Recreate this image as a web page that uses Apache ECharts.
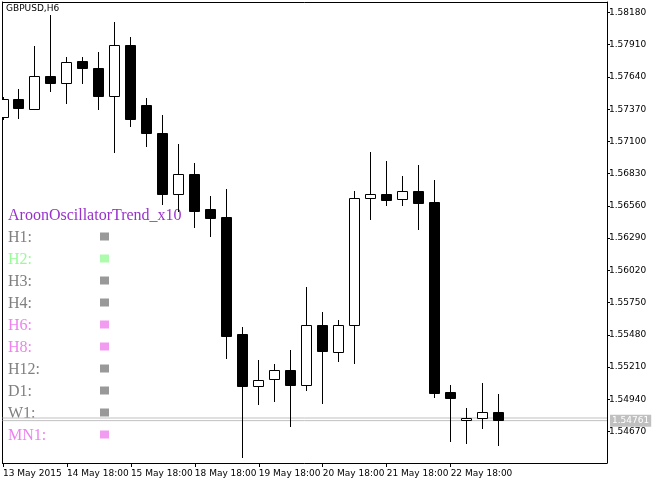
<!DOCTYPE html>
<html><head><meta charset="utf-8">
<script src="https://cdn.jsdelivr.net/npm/echarts@6/dist/echarts.min.js"></script>
<style>html,body{margin:0;padding:0;background:#fff}#c{width:659px;height:483px}</style>
</head><body><div id="c"></div>
<script>
const chartTitle = 'GBPUSD,H6';
// H6 bars, oldest first
const opens  = [1.57301,1.57451,1.57370,1.57641,1.57583,1.57767,1.57708,1.57478,1.57901,1.57398,1.57164,1.56653,1.56820,1.56527,1.56463,1.55483,1.55049,1.55108,1.55179,1.55057,1.55555,1.55334,1.55555,1.56619,1.56653,1.56611,1.56678,1.56588,1.54997,1.54760,1.54776,1.54827];
const closes = [1.57451,1.57378,1.57641,1.57583,1.57761,1.57713,1.57478,1.57901,1.57281,1.57164,1.56653,1.56820,1.56515,1.56457,1.55468,1.55049,1.55095,1.55179,1.55057,1.55555,1.55342,1.55555,1.56619,1.56653,1.56607,1.56678,1.56582,1.54991,1.54949,1.54779,1.54827,1.54761];
const lows   = [1.57284,1.57295,1.57365,1.57521,1.57420,1.57583,1.57365,1.57010,1.57225,1.57060,1.56569,1.56515,1.56376,1.56306,1.55284,1.54449,1.54899,1.54924,1.54712,1.55013,1.54907,1.55256,1.55237,1.56446,1.56566,1.56566,1.56364,1.54957,1.54589,1.54572,1.54698,1.54556];
const highs  = [1.57468,1.57535,1.57895,1.58155,1.57801,1.57801,1.57843,1.58094,1.57968,1.57457,1.57317,1.57074,1.56912,1.56638,1.56697,1.55538,1.55265,1.55231,1.55349,1.55879,1.55667,1.55599,1.56680,1.57008,1.56931,1.56806,1.56898,1.56773,1.55055,1.54863,1.55072,1.54977];
const tickBars = [0,4,8,12,16,20,24,28];
const tickLabels = ['13 May 2015','14 May 18:00','15 May 18:00','18 May 18:00','19 May 18:00','20 May 18:00','21 May 18:00','22 May 18:00'];
const priceTicks = [1.5467,1.5494,1.5521,1.5548,1.5575,1.5602,1.5629,1.5656,1.5683,1.5710,1.5737,1.5764,1.5791,1.5818];
const bidPrice = 1.54761;
const askPrice = 1.54783;
const indicatorName = 'AroonOscillatorTrend_x10';
const timeframes = ['H1','H2','H3','H4','H6','H8','H12','D1','W1','MN1'];
const trendStates = [0,1,0,0,-1,-1,0,0,0,-1];

const stateColor = { '-1': '#EE82EE', '0': '#808080', '1': '#98FB98' };
const stateKey = { '-1': 'dn', '0': 'fl', '1': 'up' };
const SANS = 'DejaVu Sans';
const SERIF = 'Liberation Serif';

const candleData = opens.map((o, i) => [i, o, closes[i], lows[i], highs[i]]);
const panelRows = [indicatorName].concat(timeframes.map(t => t + ':'));

const chart = echarts.init(document.getElementById('c'), null, { renderer: 'canvas' });

function renderCandle(params, api) {
  const i = api.value(0);
  const o = api.value(1), c = api.value(2), l = api.value(3), h = api.value(4);
  const pO = api.coord([i, o]), pC = api.coord([i, c]);
  const pL = api.coord([i, l]), pH = api.coord([i, h]);
  const cx = Math.round(pO[0] - 0.5) + 0.5;
  const half = Math.round(api.size([1, 0])[0] * 5 / 16);
  const top = Math.round(Math.min(pO[1], pC[1]) - 0.5) + 0.5;
  const bot = Math.round(Math.max(pO[1], pC[1]) - 0.5) + 0.5;
  const bull = c >= o;
  return {
    type: 'group',
    children: [
      { type: 'line', shape: { x1: cx, y1: Math.floor(pH[1]), x2: cx, y2: Math.floor(pL[1]) + 1 },
        style: { stroke: '#000', lineWidth: 1 } },
      { type: 'rect', shape: { x: cx - half, y: top, width: half * 2, height: Math.max(bot - top, 1) },
        style: { fill: bull ? '#fff' : '#000', stroke: '#000', lineWidth: 1 } }
    ]
  };
}

const xMin = -0.03125, xMax = 37.78125;
const yMin = 1.544061, yMax = 1.582681;

function priceLine(price, withLabel) {
  return {
    type: 'line', xAxisIndex: 0, yAxisIndex: 0, z: 1, clip: false, silent: true,
    symbol: 'none', lineStyle: { color: '#c0c0c0', width: 1 },
    data: [[xMin, price], [xMax, price]],
    endLabel: withLabel ? {
      show: true, distance: 3,
      formatter: p => Number(p.value[1]).toFixed(5),
      color: '#fff', backgroundColor: '#c0c0c0', padding: [1, 2, 1, 2],
      fontSize: 9, fontFamily: SANS, lineHeight: 10
    } : { show: false }
  };
}

const richRow = color => ({ color: color, fontFamily: SERIF, fontSize: 16, padding: [3, 0, 0, 0] });

const option = {
  animation: false,
  backgroundColor: '#fff',
  title: {
    text: chartTitle, left: 6, top: 4, padding: 0,
    textStyle: { fontSize: 9, fontWeight: 'normal', fontFamily: SANS, color: '#000' }
  },
  grid: [
    { left: 2, right: 52, top: 2, bottom: 20 },
    { left: 100, width: 9, top: 203.5, height: 242 }
  ],
  xAxis: [
    { type: 'value', gridIndex: 0, position: 'bottom', min: xMin, max: xMax,
      axisLine: { show: true, onZero: false, lineStyle: { color: '#000', width: 1 } },
      axisTick: { show: true, customValues: tickBars, length: 4, lineStyle: { color: '#000' } },
      axisLabel: { show: true, customValues: tickBars, align: 'left', margin: 6,
        fontSize: 9, fontFamily: SANS, color: '#000',
        formatter: v => tickLabels[tickBars.indexOf(Math.round(v))] },
      splitLine: { show: false } },
    { type: 'value', gridIndex: 0, position: 'top', min: xMin, max: xMax,
      axisLine: { show: true, onZero: false, lineStyle: { color: '#000', width: 1 } },
      axisTick: { show: false }, axisLabel: { show: false }, splitLine: { show: false } },
    { type: 'value', gridIndex: 1, min: 0, max: 1, show: false }
  ],
  yAxis: [
    { type: 'value', gridIndex: 0, position: 'right', min: yMin, max: yMax,
      axisLine: { show: true, onZero: false, lineStyle: { color: '#000', width: 1 } },
      axisTick: { show: true, customValues: priceTicks, length: 3, lineStyle: { color: '#000' } },
      axisLabel: { show: true, customValues: priceTicks, margin: 2,
        fontSize: 9, fontFamily: SANS, color: '#000',
        formatter: v => v.toFixed(5) },
      splitLine: { show: false } },
    { type: 'value', gridIndex: 0, position: 'left', min: yMin, max: yMax,
      axisLine: { show: true, onZero: false, lineStyle: { color: '#000', width: 1 } },
      axisTick: { show: false }, axisLabel: { show: false }, splitLine: { show: false } },
    { type: 'category', gridIndex: 1, inverse: true, data: panelRows,
      axisLine: { show: false }, axisTick: { show: false }, splitLine: { show: false },
      axisLabel: { show: true, interval: 0, align: 'left', margin: 92,
        fontFamily: SERIF, fontSize: 16,
        formatter: (v, idx) => idx === 0 ? '{t|' + v + '}' : '{' + stateKey[trendStates[idx - 1]] + '|' + v + '}',
        rich: {
          t: richRow('#9932CC'),
          dn: richRow(stateColor['-1']),
          fl: richRow(stateColor['0']),
          up: richRow(stateColor['1'])
        } } }
  ],
  series: [
    priceLine(askPrice, false),
    priceLine(bidPrice, true),
    { type: 'custom', xAxisIndex: 0, yAxisIndex: 0, z: 2, clip: true,
      renderItem: renderCandle, data: candleData,
      encode: { x: 0, y: [1, 2, 3, 4] } },
    { type: 'scatter', xAxisIndex: 2, yAxisIndex: 2, symbol: 'rect', symbolSize: [9, 8],
      data: trendStates.map((s, i) => ({ value: [0.5, i + 1], itemStyle: { color: stateColor[s] } })) }
  ]
};
chart.setOption(option);
</script></body></html>
